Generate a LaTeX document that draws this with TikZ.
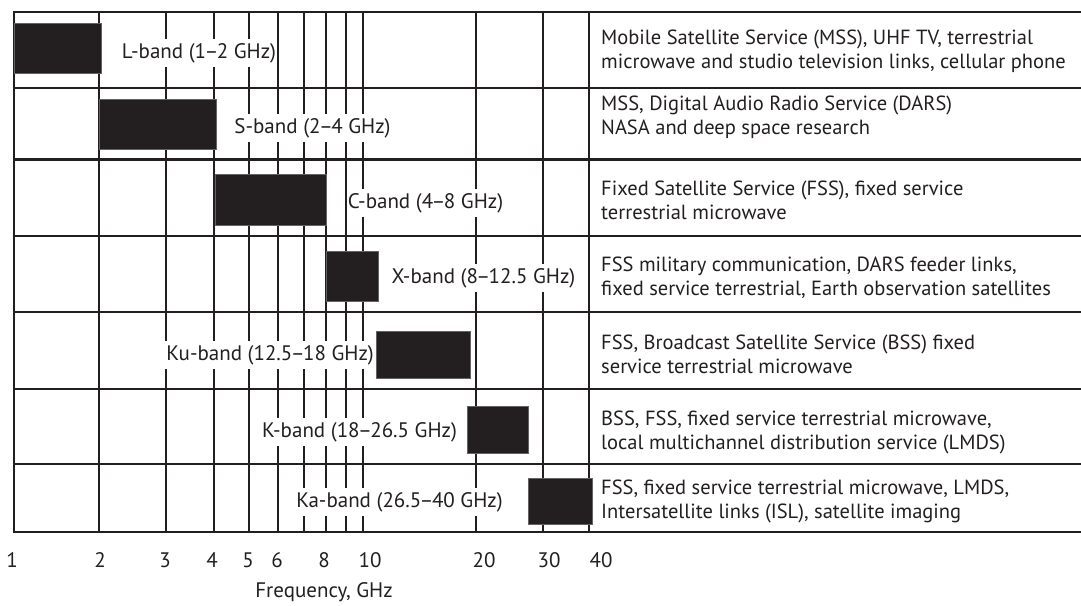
\documentclass[tikz,border=0pt]{standalone}
\usepackage{fontspec}
\setmainfont{PT Sans}
\definecolor{ink}{RGB}{35,31,32}
\newcommand{\ndsh}{\kern-1.6pt--\kern-1.6pt}
\begin{document}
\begin{tikzpicture}[x=1pt,y=-1pt,
  grid/.style={draw=ink,line width=2.8pt},
  bandbox/.style={fill=ink,draw=ink!70,line width=0.6pt},
  bandlabel/.style={fill=white,text=ink,inner xsep=1pt,inner ysep=4pt,font=\fontsize{21}{24}\selectfont},
  service/.style={anchor=west,align=left,text=ink,inner sep=0pt,font=\fontsize{20.5}{24}\selectfont},
  ticklabel/.style={text=ink,inner sep=0pt,font=\fontsize{21}{24}\selectfont}]
\useasboundingbox (0,0) rectangle (1081,605);
% grid
\foreach \x in {14,99,166,214,249,278,304,326,346,363,476,543,589}
  \draw[grid] (\x,12) -- (\x,532);
\foreach \y in {12,88,159.5,236,312,389,464,532}
  \draw[grid] (12.6,\y) -- (1081,\y);
% band boxes
\path[bandbox] (14,23) rectangle (101,73);
\path[bandbox] (99,99) rectangle (216,149);
\path[bandbox] (215,174) rectangle (326,225);
\path[bandbox] (326,251) rectangle (378,301);
\path[bandbox] (376,331) rectangle (470,378);
\path[bandbox] (467,406) rectangle (528,453);
\path[bandbox] (528,478) rectangle (592,524);
% band labels
\node[bandlabel] (lL) at (199,53) {L-band (1\ndsh2 GHz)};
\node[bandlabel] (lS) at (312.5,128) {S-band (2\ndsh4 GHz)};
\node[bandlabel] (lC) at (425.5,203) {C-band (4\ndsh8 GHz)};
\node[bandlabel] (lX) at (483.5,278) {X-band (8\ndsh12.5 GHz)};
\node[bandlabel,anchor=east] (lKu) at (375,355) {Ku-band (12.5\ndsh18 GHz)};
\node[bandlabel] (lK) at (359.5,432) {K-band (18\ndsh26.5 GHz)};
\node[bandlabel] (lKa) at (399.5,502) {Ka-band (26.5\ndsh40 GHz)};
% services
\node[service] (s1) at (601,51.5) {Mobile Satellite Service (MSS), UHF TV, terrestrial\\microwave and studio television links, cellular phone};
\node[service] (s2) at (601,117.5) {MSS, Digital Audio Radio Service (DARS)\\NASA and deep space research};
\node[service] (s3) at (601,200) {Fixed Satellite Service (FSS), fixed service\\terrestrial microwave};
\node[service] (s4) at (601,277.5) {FSS military communication, DARS feeder links,\\fixed service terrestrial, Earth observation satellites};
\node[service] (s5) at (601,354) {FSS, Broadcast Satellite Service (BSS) fixed\\service terrestrial microwave};
\node[service] (s6) at (601,432) {BSS, FSS, fixed service terrestrial microwave,\\local multichannel distribution service (LMDS)};
\node[service] (s7) at (601,501) {FSS, fixed service terrestrial microwave, LMDS,\\Intersatellite links (ISL), satellite imaging};
% ticks
\foreach \x/\t in {12/1,100/2,165/3,212/4,248/5,277/6,324/8,370/10,484/20,549/30,601/40}
  \node[ticklabel] (t\t) at (\x,560) {\t};
\node[ticklabel] (xlab) at (324,592) {Frequency, GHz};
\end{tikzpicture}
\end{document}
